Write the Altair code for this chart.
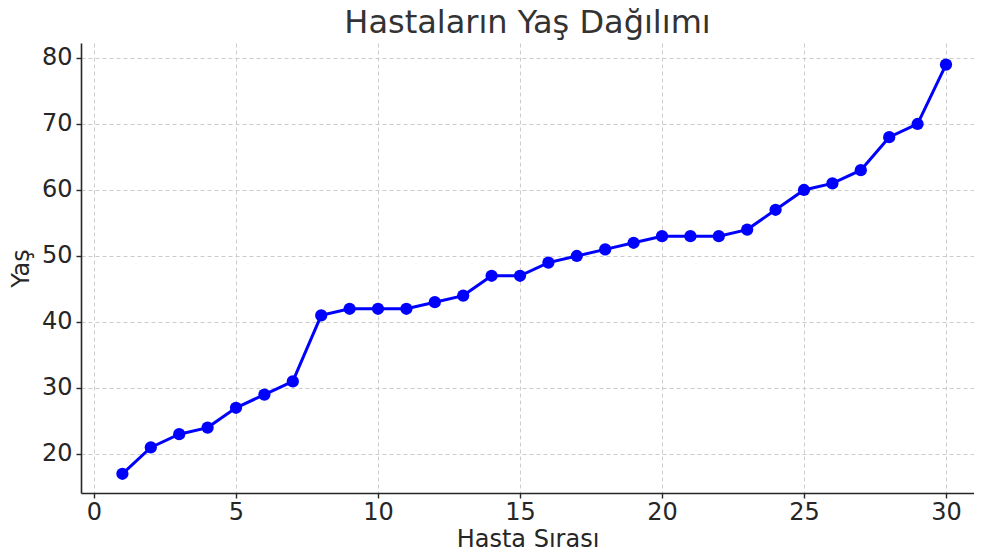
import altair as alt
import pandas as pd

hasta = list(range(1, 31))
yas = [17, 21, 23, 24, 27, 29, 31, 41, 42, 42, 42, 43, 44, 47, 47, 49, 50, 51, 52, 53,
       53, 53, 54, 57, 60, 61, 63, 68, 70, 79]
x_ticks = [0, 5, 10, 15, 20, 25, 30]
y_ticks = [20, 30, 40, 50, 60, 70, 80]

df = pd.DataFrame({"Hasta Sırası": hasta, "Yaş": yas})

axis_common = dict(
    grid=True, gridColor="#cccccc", gridDash=[4, 3], gridWidth=1,
    domainColor="#262626", domainWidth=1.6, tickColor="#262626", tickSize=5, tickWidth=1.4,
    labelFont="DejaVu Sans", labelFontSize=24, labelColor="#262626",
    titleFont="DejaVu Sans", titleFontSize=24, titleColor="#262626", titleFontWeight="normal",
)

chart = alt.Chart(df).mark_line(
    color="#0000ff", strokeWidth=3,
    point=alt.OverlayMarkDef(color="#0000ff", size=150, filled=True, opacity=1),
).encode(
    x=alt.X("Hasta Sırası:Q", scale=alt.Scale(domain=[-0.458, 30.986], nice=False, zero=False),
            axis=alt.Axis(values=x_ticks, titlePadding=3, labelPadding=2, **axis_common)),
    y=alt.Y("Yaş:Q", scale=alt.Scale(domain=[14.09, 82.27], nice=False, zero=False),
            axis=alt.Axis(values=y_ticks, titlePadding=8, labelPadding=4, **axis_common)),
).properties(
    width=893, height=450,
    title=alt.TitleParams("Hastaların Yaş Dağılımı", font="DejaVu Sans", fontSize=32,
                          fontWeight="normal", color="#333333", anchor="middle", offset=3),
    autosize=alt.AutoSizeParams(type="none"),
    padding={"left": 73, "top": 35, "right": 0, "bottom": 65},
).configure_view(stroke=None)

chart.save("out.html", embed_options={"renderer": "svg", "actions": False})
